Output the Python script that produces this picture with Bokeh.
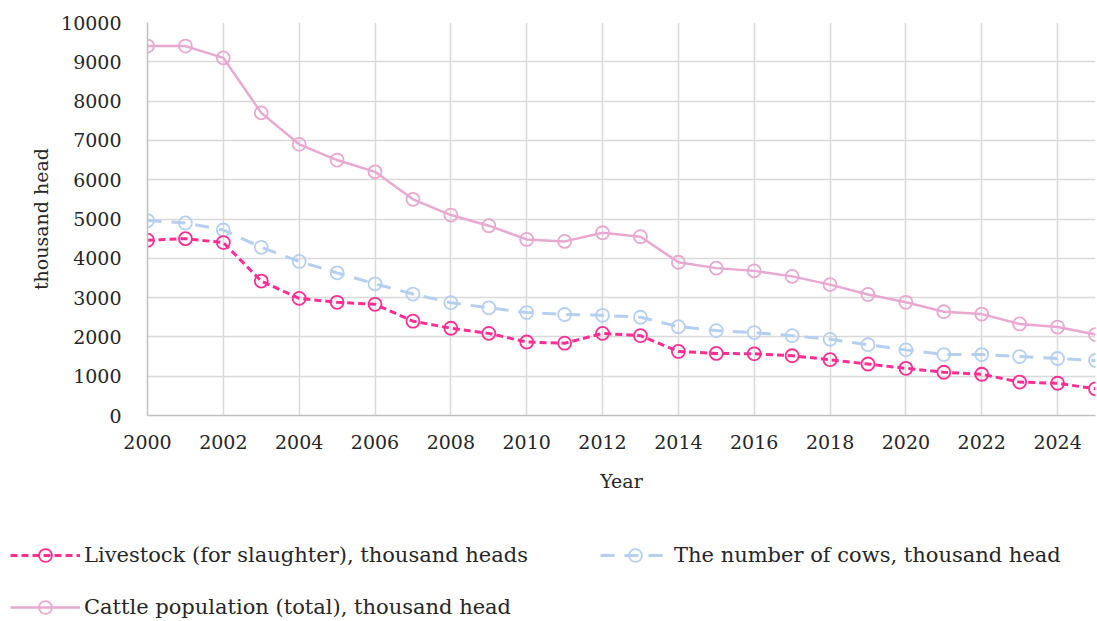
from bokeh.plotting import figure
from bokeh.models import Range1d, FixedTicker, Legend, LegendItem
from bokeh.layouts import column
from bokeh.embed import file_html
from bokeh.resources import INLINE

years = list(range(2000, 2026))
cattle = [9400, 9400, 9100, 7700, 6900, 6500, 6200, 5500, 5100, 4830, 4480, 4430, 4650,
          4550, 3900, 3750, 3680, 3540, 3330, 3080, 2880, 2640, 2580, 2330, 2250, 2060]
cows = [4960, 4900, 4720, 4280, 3920, 3630, 3350, 3090, 2870, 2740, 2620, 2570, 2550,
        2500, 2260, 2160, 2110, 2030, 1940, 1800, 1670, 1550, 1550, 1500, 1450, 1400]
slaughter = [4460, 4500, 4400, 3420, 2980, 2880, 2830, 2400, 2220, 2090, 1870, 1840, 2090,
             2030, 1630, 1580, 1570, 1520, 1420, 1310, 1200, 1100, 1050, 850, 820, 680]
x_ticks = list(range(2000, 2025, 2))
y_ticks = list(range(0, 10001, 1000))

names = ["Livestock (for slaughter), thousand heads",
         "The number of cows, thousand head",
         "Cattle population (total), thousand head"]

FONT = "DejaVu Serif"
TXT = "#262626"
C_CATTLE = "#E8A8D0"
C_COWS = "#B5CFF0"
C_SLAUGHTER = "#FF2E93"

STY = {
    "slaughter": dict(color=C_SLAUGHTER, lw=3, dash="7 4"),
    "cows": dict(color=C_COWS, lw=3, dash="14 10"),
    "cattle": dict(color=C_CATTLE, lw=2.5, dash="solid"),
}
DATA = {"slaughter": slaughter, "cows": cows, "cattle": cattle}

p = figure(width=1097, height=500, output_backend="svg", toolbar_location=None,
           x_range=Range1d(2000, 2025), y_range=Range1d(0, 10000),
           min_border_left=147, min_border_right=2, min_border_top=22, min_border_bottom=85)
p.frame_align = False
p.outline_line_color = None
p.background_fill_color = "white"

for ax in (p.xaxis[0], p.yaxis[0]):
    ax.axis_line_color = "#BFBFBF"
    ax.axis_line_width = 1.5
    ax.major_tick_line_color = None
    ax.minor_tick_line_color = None
    ax.major_label_text_font = FONT
    ax.major_label_text_font_size = "19px"
    ax.major_label_text_color = TXT
    ax.axis_label_text_font = FONT
    ax.axis_label_text_font_size = "19px"
    ax.axis_label_text_color = TXT
    ax.axis_label_text_font_style = "normal"

p.xaxis.ticker = FixedTicker(ticks=x_ticks)
p.yaxis.ticker = FixedTicker(ticks=y_ticks)
p.xaxis.axis_label = "Year"
p.yaxis.axis_label = "thousand head"
p.xaxis.major_label_standoff = 13
p.yaxis.major_label_standoff = 20
p.xaxis.axis_label_standoff = 18
p.yaxis.axis_label_standoff = 6

p.xgrid.grid_line_color = "#D9D9D9"
p.ygrid.grid_line_color = "#D9D9D9"
p.xgrid.grid_line_width = 1.5
p.ygrid.grid_line_width = 1.5

for key in ("cattle", "cows", "slaughter"):
    s = STY[key]
    p.line(years, DATA[key], line_color=s["color"], line_width=s["lw"], line_dash=s["dash"])
    p.scatter(years, DATA[key], size=13, fill_alpha=0, line_color=s["color"], line_width=1.8)

# legend panel below the chart (its series lie outside its empty ranges)
q = figure(width=1097, height=121, output_backend="svg", toolbar_location=None,
           x_range=Range1d(0, 1), y_range=Range1d(0, 1),
           x_axis_location=None, y_axis_location=None,
           min_border_left=0, min_border_right=0, min_border_top=0, min_border_bottom=0)
q.frame_align = False
q.outline_line_color = None
q.xgrid.visible = False
q.ygrid.visible = False

def swatch(key):
    s = STY[key]
    r1 = q.line(years, DATA[key], line_color=s["color"], line_width=s["lw"], line_dash=s["dash"])
    r2 = q.scatter(years, DATA[key], size=13, fill_alpha=0, line_color=s["color"], line_width=1.8)
    return [r1, r2]

def mk_legend(items, loc):
    lg = Legend(items=items, location=loc, orientation="vertical")
    lg.padding = 0
    lg.margin = 0
    lg.spacing = 20
    lg.border_line_color = None
    lg.background_fill_alpha = 0
    lg.glyph_width = 70
    lg.glyph_height = 32
    lg.label_height = 32
    lg.label_standoff = 4
    lg.label_text_font = FONT
    lg.label_text_font_size = "21px"
    lg.label_text_color = TXT
    return lg

legA = mk_legend([LegendItem(label=names[0], renderers=swatch("slaughter")),
                  LegendItem(label=names[2], renderers=swatch("cattle"))], (10, -2))
legB = mk_legend([LegendItem(label=names[1], renderers=swatch("cows"))], (600, 50))
q.add_layout(legA)
q.add_layout(legB)

open("out.html", "w").write(file_html(column(p, q, spacing=0), INLINE))
